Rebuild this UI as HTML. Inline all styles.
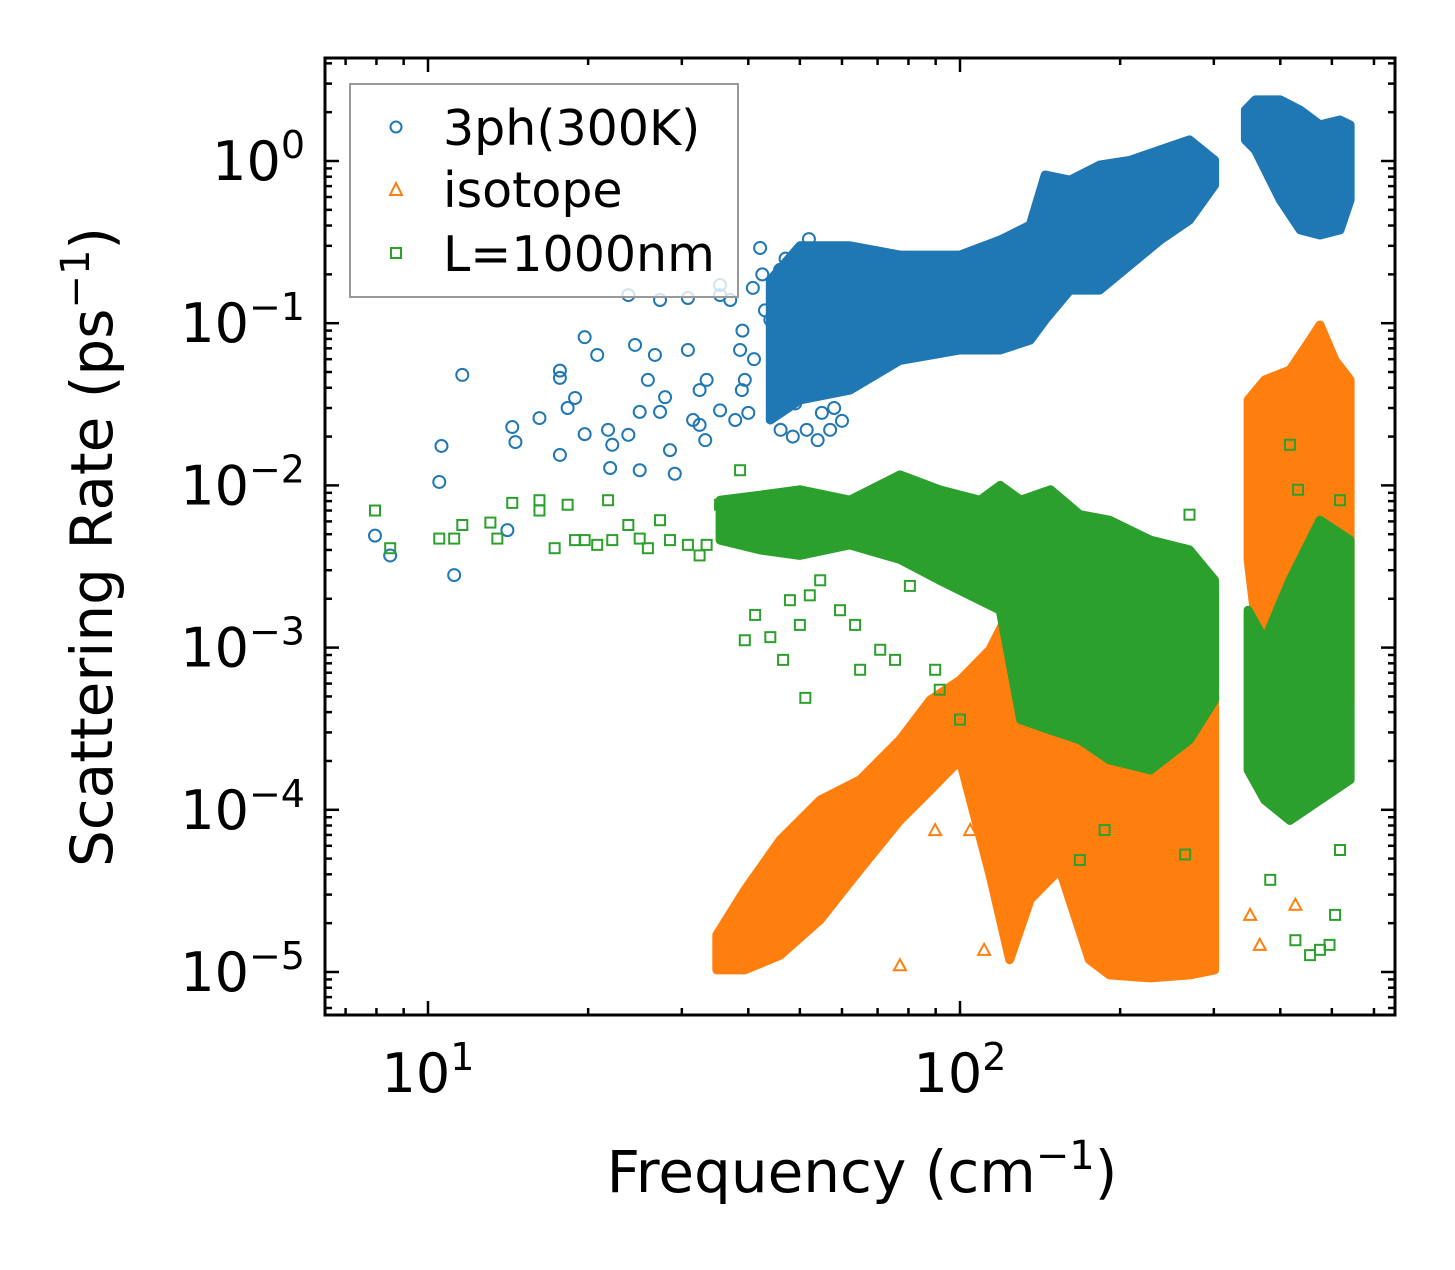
<!DOCTYPE html>
<html><head><meta charset="utf-8">
<style>
html,body{margin:0;padding:0;background:#fff;}
svg text{font-family:"DejaVu Sans","Liberation Sans",sans-serif;fill:#000;}
</style></head>
<body>
<svg id="chart" width="1455" height="1265" viewBox="0 0 1455 1265" xmlns="http://www.w3.org/2000/svg">
<rect x="0" y="0" width="1455" height="1265" fill="#fff"/>
<defs><clipPath id="plotclip"><rect x="325" y="58" width="1070" height="957"/></clipPath></defs>
<g id="marks" clip-path="url(#plotclip)"></g>
<g id="axes"></g>
<g>
  <rect x="350" y="84" width="388" height="213" fill="#fff" fill-opacity="0.8" stroke="#999" stroke-width="2"/>
  <g>
    <circle cx="396" cy="127" r="5.5" fill="none" stroke="#1f77b4" stroke-width="2"/>
    <text x="443" y="145" font-size="49">3ph(300K)</text>
  </g>
  <g>
    <polygon points="396,183 402,195 390,195" fill="none" stroke="#ff7f0e" stroke-width="2"/>
    <text x="443" y="207" font-size="49">isotope</text>
  </g>
  <g>
    <rect x="391" y="248" width="10" height="10" fill="none" stroke="#2ca02c" stroke-width="2"/>
    <text x="443" y="271" font-size="49">L=1000nm</text>
  </g>
</g>
<text font-size="58" text-anchor="middle" transform="translate(112,547) rotate(-90)">Scattering Rate (ps<tspan baseline-shift="super" font-size="40">−1</tspan>)</text>
<text font-size="58" text-anchor="middle" x="862" y="1192">Frequency (cm<tspan baseline-shift="super" font-size="40">−1</tspan>)</text>
</svg>
<script>
// ---- data (frequency cm^-1, rate ps^-1) ----
const xTickExps = [1, 2];
const yTickExps = [0, -1, -2, -3, -4, -5];
// dense clouds: [freq, low, high]
const bandBlueA = [[44.0,0.0253,0.185],[50,0.0336,0.30],[62.1,0.0387,0.30],[77.1,0.059,0.263],[100,0.0684,0.263],[119,0.0684,0.326],[135.5,0.0787,0.403],[144.6,0.105,0.82],[161,0.16,0.763],[183,0.16,0.944],[209,0.229,1.01],[238,0.326,1.17],[270,0.433,1.35],[301,0.711,1.01]];
const bandBlueB = [[344,1.35,2.06],[359,1.17,2.38],[400,0.575,2.38],[436,0.376,2.06],[475,0.35,1.67],[518,0.376,1.79],[541,0.575,1.67]];
const bandOrangeA = [[34.9,1.03e-5,1.69e-5],[39.4,1.03e-5,3.2e-5],[45.9,1.27e-5,6.5e-5],[54.6,2.1e-5,1.15e-4],[64.9,4.3e-5,1.53e-4],[77.1,8.6e-5,2.7e-4],[87.9,1.32e-4,4.75e-4],[100,2.03e-4,6.3e-4],[113.8,4.0e-5,9.7e-4],[124,1.19e-5,1.7e-3],[135.5,2.8e-5,9.7e-4],[154,4.3e-5,4.75e-4],[175,1.19e-5,3.6e-4],[191,9.6e-6,3.1e-4],[228,9.2e-6,3.6e-4],[270,9.6e-6,3.6e-4],[301,1.03e-5,4.75e-4]];
const bandOrangeB = [[348,3.5e-3,0.0336],[374,4.75e-4,0.0447],[417,4.75e-4,0.0514],[455,4.75e-4,0.0787],[475,4.75e-4,0.0975],[507,4.75e-4,0.059],[541,4.75e-4,0.0447]];
const bandGreenA = [[35.4,4.6e-3,8.1e-3],[42.1,4.0e-3,8.7e-3],[50,3.7e-3,9.4e-3],[62.1,4.3e-3,8.1e-3],[77.1,3.5e-3,0.0116],[91.6,2.6e-3,9.4e-3],[109,1.96e-3,8.1e-3],[119,1.7e-3,0.010],[130,3.6e-4,8.1e-3],[148,3.1e-4,9.4e-3],[168,2.7e-4,6.6e-3],[191,2.03e-4,6.1e-3],[228,1.76e-4,4.6e-3],[270,2.7e-4,4.0e-3],[301,4.75e-4,2.6e-3]];
const bandGreenB = [[348,1.76e-4,1.7e-3],[374,1.15e-4,1.11e-3],[417,8.6e-5,2.6e-3],[475,1.15e-4,6.1e-3],[541,1.53e-4,4.6e-3]];
// scattered points
const blueFreq = [7.95,8.49,11.6,10.6,10.5,11.2,14.1,14.6,14.4,16.2,17.7,17.7,17.7,18.3,18.9,19.7,19.7,20.8,21.8,22.0,22.2,23.8,24.5,25.0,25.0,25.9,26.7,27.3,27.9,28.5,29.1,30.8,31.5,32.4,33.2,33.4,35.4,38.6,39.4,38.9,37.0,37.8,40.8,44.0,42.1,45.9,32.4,35.4,23.8,27.3,30.8,35.4,39.0,41.0,43.0,40.0,42.5,44.5,47.0,49.0,52.0,55.0,58.0,46.0,48.5,51.5,54.0,57.0,60.0];
const blueRate = [4.9e-3,3.7e-3,0.048,0.0175,0.0105,2.8e-3,5.3e-3,0.0185,0.0229,0.026,0.051,0.046,0.0154,0.030,0.0346,0.082,0.0207,0.0637,0.022,0.0128,0.0178,0.0205,0.0734,0.0284,0.0124,0.0447,0.0637,0.0284,0.035,0.0165,0.0118,0.0684,0.0253,0.0236,0.019,0.0447,0.149,0.0684,0.0447,0.0387,0.139,0.0253,0.165,0.105,0.291,0.213,0.0387,0.029,0.149,0.139,0.143,0.172,0.09,0.06,0.12,0.028,0.2,0.045,0.25,0.032,0.33,0.028,0.03,0.022,0.02,0.022,0.019,0.022,0.025];
const orangeFreq = [77.1,111,164,351,366,89.8,104.5,119,427];
const orangeRate = [1.1e-5,1.37e-5,4.9e-5,2.25e-5,1.47e-5,7.5e-5,7.5e-5,1.53e-4,2.6e-5];
const greenFreq = [7.95,8.49,10.5,11.2,11.6,13.1,13.5,14.4,16.2,16.2,17.3,18.3,18.9,19.7,20.8,21.8,22.2,23.8,25.0,25.9,27.3,28.5,30.8,32.4,33.4,35.4,38.6,39.4,41.2,44.0,46.5,47.9,50.0,52.2,51.2,54.6,59.5,63.5,64.9,70.8,75.5,80.5,89.8,91.6,100,168,187,209,238,265,270,259,417,432,518,495,507,427,383,518,455,475];
const greenRate = [7.0e-3,4.1e-3,4.7e-3,4.7e-3,5.7e-3,5.9e-3,4.7e-3,7.8e-3,8.1e-3,7.0e-3,4.1e-3,7.6e-3,4.6e-3,4.6e-3,4.3e-3,8.1e-3,4.6e-3,5.7e-3,4.7e-3,4.1e-3,6.1e-3,4.6e-3,4.3e-3,3.7e-3,4.3e-3,7.6e-3,0.0124,1.11e-3,1.59e-3,1.16e-3,8.4e-4,1.96e-3,1.38e-3,2.1e-3,4.9e-4,2.6e-3,1.7e-3,1.38e-3,7.3e-4,9.7e-4,8.4e-4,2.4e-3,7.3e-4,5.5e-4,3.6e-4,4.9e-5,7.5e-5,2.03e-4,3.6e-4,5.3e-5,6.6e-3,4.0e-3,0.0178,9.4e-3,8.1e-3,1.47e-5,2.25e-5,1.57e-5,3.7e-5,5.65e-5,1.27e-5,1.37e-5];

// ---- axis functions ----
const X0 = 428, XDEC = 532, Y0 = 161, YDEC = 162.2;
function xs(f){ return X0 + (Math.log10(f) - 1) * XDEC; }
function ys(r){ return Y0 - Math.log10(r) * YDEC; }
const NS = 'http://www.w3.org/2000/svg';
const marks = document.getElementById('marks');
const axes = document.getElementById('axes');
function mk(tag, attrs, parent){ const e=document.createElementNS(NS,tag); for(const k in attrs) e.setAttribute(k,attrs[k]); parent.appendChild(e); return e; }

function band(arr, color, name){
  const top = arr.map(d => xs(d[0]).toFixed(1)+','+ys(d[2]).toFixed(1));
  const bot = arr.slice().reverse().map(d => xs(d[0]).toFixed(1)+','+ys(d[1]).toFixed(1));
  const p = mk('polygon', {points: top.concat(bot).join(' '), fill: color, stroke: color, 'stroke-width': 9, 'stroke-linejoin':'round'}, marks);
  
  
}
function circles(fx, ry, color, name){
  const g = mk('g', {}, marks);
  
  
  fx.forEach((f,i) => {
    const c = mk('circle', {cx: xs(f), cy: ys(ry[i]), r: 6, fill:'none', stroke: color, 'stroke-width': 2}, g);
    
    
  });
}
function triangles(fx, ry, color, name){
  const g = mk('g', {}, marks);
  
  
  fx.forEach((f,i) => {
    const x = xs(f), y = ys(ry[i]);
    const t = mk('polygon', {points: `${x},${y-6} ${x+6},${y+5} ${x-6},${y+5}`, fill:'none', stroke: color, 'stroke-width': 2}, g);
    
    
  });
}
function squares(fx, ry, color, name){
  const g = mk('g', {}, marks);
  
  
  fx.forEach((f,i) => {
    const s = mk('rect', {x: xs(f)-5, y: ys(ry[i])-5, width: 10, height: 10, fill:'none', stroke: color, 'stroke-width': 2}, g);
    
    
  });
}
const BLUE='#1f77b4', ORANGE='#ff7f0e', GREEN='#2ca02c';
band(bandBlueA, BLUE, 'cloud-3ph-low');
band(bandBlueB, BLUE, 'cloud-3ph-high');
circles(blueFreq, blueRate, BLUE, 'series-3ph');
band(bandOrangeA, ORANGE, 'cloud-isotope-low');
band(bandOrangeB, ORANGE, 'cloud-isotope-high');
triangles(orangeFreq, orangeRate, ORANGE, 'series-isotope');
band(bandGreenA, GREEN, 'cloud-l1000nm-low');
band(bandGreenB, GREEN, 'cloud-l1000nm-high');
squares(greenFreq, greenRate, GREEN, 'series-l1000nm');

// ---- axes ----
const L=325, R=1395, T=58, B=1015;
const frame = mk('rect', {x:L, y:T, width:R-L, height:B-T, fill:'none', stroke:'#000', 'stroke-width':3}, axes);


for (let e=0; e<=2; e++){
  for (let m=1; m<=9; m++){
    const x = xs(m*Math.pow(10,e));
    if (x < L+1 || x > R-1) continue;
    const len = m===1 ? 14 : 7;
    mk('line', {x1:x, y1:B, x2:x, y2:B-len, stroke:'#000', 'stroke-width':2.5}, axes);
    mk('line', {x1:x, y1:T, x2:x, y2:T+len, stroke:'#000', 'stroke-width':2.5}, axes);
  }
}
xTickExps.forEach(e => {
  const t = mk('text', {x: xs(Math.pow(10,e)), y: 1092, 'font-size': 54, 'text-anchor':'middle'}, axes);
  
  
  t.innerHTML = '10<tspan baseline-shift="super" font-size="38">' + e + '</tspan>';
});
for (let e=-6; e<=0; e++){
  for (let m=1; m<=9; m++){
    const y = ys(m*Math.pow(10,e));
    if (y < T+1 || y > B-1) continue;
    const len = m===1 ? 14 : 7;
    mk('line', {x1:L, y1:y, x2:L+len, y2:y, stroke:'#000', 'stroke-width':2.5}, axes);
    mk('line', {x1:R, y1:y, x2:R-len, y2:y, stroke:'#000', 'stroke-width':2.5}, axes);
  }
}
yTickExps.forEach(e => {
  const t = mk('text', {x: 305, y: ys(Math.pow(10,e)) + 19, 'font-size': 54, 'text-anchor':'end'}, axes);
  
  
  t.innerHTML = '10<tspan baseline-shift="super" font-size="38">' + (e<0 ? '−'+(-e) : e) + '</tspan>';
});
</script>
</body></html>
